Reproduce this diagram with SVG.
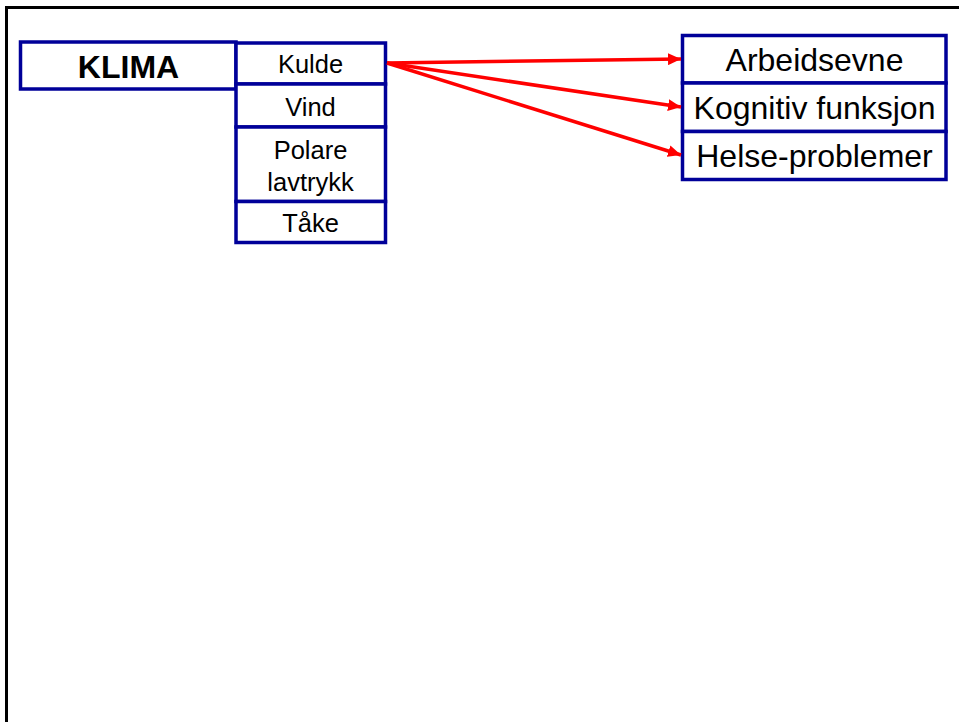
<svg xmlns="http://www.w3.org/2000/svg" width="959" height="722" viewBox="0 0 959 722">
<style>
.box{fill:#fff;stroke:#000099;stroke-width:3.5}
.t{font-family:"Liberation Sans",Arial,sans-serif;fill:#000;text-anchor:middle}
.s{font-size:25.5px}
.l{font-size:32px}
.conn{stroke:#ff0000;stroke-width:3.5;fill:none;marker-end:url(#ah)}
</style>
<defs>
<marker id="ah" markerUnits="userSpaceOnUse" markerWidth="13" markerHeight="12" refX="13" refY="6" orient="auto">
<path d="M0,0 L13,6 L0,12 Z" fill="#ff0000"/>
</marker>
</defs>
<rect width="959" height="722" fill="#fff"/>
<path d="M6.5,722 V7.5 H959" fill="none" stroke="#000" stroke-width="3"/>
<g id="klima"><rect class="box" x="20.5" y="42" width="215.5" height="47"/><text class="t" x="128.5" y="78" font-size="32" font-weight="bold">KLIMA</text></g>
<g id="kulde"><rect class="box" x="236" y="43" width="149.5" height="41"/><text class="t s" x="310.5" y="72.5">Kulde</text></g>
<g id="vind"><rect class="box" x="236" y="84" width="149.5" height="43"/><text class="t s" x="310.5" y="116">Vind</text></g>
<g id="polare"><rect class="box" x="236" y="127" width="149.5" height="74.5"/><text class="t s" x="310.5" y="159">Polare</text><text class="t s" x="310.5" y="190.5">lavtrykk</text></g>
<g id="take"><rect class="box" x="236" y="201.5" width="149.5" height="41"/><text class="t s" x="310.5" y="232">Tåke</text></g>
<g id="arbeidsevne"><rect class="box" x="682.5" y="35.5" width="263.5" height="47.5"/><text class="t l" x="814.5" y="70.5">Arbeidsevne</text></g>
<g id="kognitiv"><rect class="box" x="682.5" y="83" width="263.5" height="48.5"/><text class="t l" x="814.5" y="119">Kognitiv funksjon</text></g>
<g id="helse"><rect class="box" x="682.5" y="131.5" width="263.5" height="48"/><text class="t l" x="814.5" y="166.5">Helse-problemer</text></g>
<g id="connectors">
<line class="conn" x1="387" y1="63" x2="681" y2="59"/>
<line class="conn" x1="387" y1="63" x2="681" y2="107"/>
<line class="conn" x1="387" y1="63" x2="681" y2="155"/>
</g>
</svg>
